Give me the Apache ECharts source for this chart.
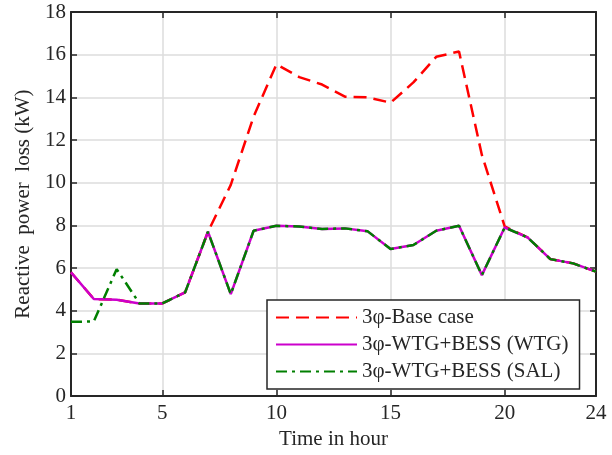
<!DOCTYPE html>
<html><head><meta charset="utf-8">
<script src="https://cdn.jsdelivr.net/npm/echarts@6/dist/echarts.min.js"></script>
<style>html,body{margin:0;padding:0;background:#fff}#c{width:612px;height:455px}</style>
</head><body><div id="c"></div>
<script>
const hours = [1,2,3,4,5,6,7,8,9,10,11,12,13,14,15,16,17,18,19,20,21,22,23,24];
const baseCase = [5.8,4.55,4.52,4.34,4.34,4.86,7.7,9.9,13.1,15.55,14.95,14.6,14.03,14.0,13.75,14.7,15.9,16.15,11.3,7.95,7.44,6.42,6.22,5.83];
const wtg = [5.8,4.55,4.52,4.34,4.34,4.86,7.7,4.78,7.75,7.98,7.95,7.83,7.86,7.72,6.89,7.08,7.75,7.98,5.67,7.9,7.44,6.42,6.22,5.83];
const sal = [3.48,3.5,5.95,4.34,4.34,4.86,7.7,4.78,7.75,7.98,7.95,7.83,7.86,7.72,6.89,7.08,7.75,7.98,5.67,7.9,7.44,6.42,6.22,5.83];
const xTicks = [1,5,10,15,20,24];
const names = ['3\u03c6-Base case','3\u03c6-WTG+BESS (WTG)','3\u03c6-WTG+BESS (SAL)'];

const font = '"Liberation Serif","Times New Roman",serif';
const axisCol = '#262626';
const pair = a => hours.map((h,i)=>[h,a[i]]);
const chart = echarts.init(document.getElementById('c'));
const xCommon = {
  type:'value', min:1, max:24,
  axisLine:{show:true,onZero:false,lineStyle:{color:axisCol,width:2}},
  axisTick:{show:true,inside:true,length:6,customValues:xTicks,lineStyle:{color:axisCol,width:1.5}},
  splitLine:{show:true,lineStyle:{color:'#dcdcdc',width:1.5}},
  axisLabel:{customValues:xTicks,color:axisCol,fontFamily:font,fontSize:21,margin:7}
};
const yCommon = {
  type:'value', min:0, max:18, interval:2,
  axisLine:{show:true,onZero:false,lineStyle:{color:axisCol,width:2}},
  axisTick:{show:true,inside:true,length:6,lineStyle:{color:axisCol,width:1.5}},
  splitLine:{show:true,lineStyle:{color:'#dcdcdc',width:1.5}},
  axisLabel:{color:axisCol,fontFamily:font,fontSize:21,margin:5}
};
chart.setOption({
  animation:false,
  backgroundColor:'#fff',
  grid:{left:71,right:16,top:12,bottom:58},
  xAxis:[
    Object.assign({},xCommon,{position:'bottom',name:'Time in hour',nameLocation:'middle',nameGap:32,
      nameTextStyle:{color:axisCol,fontFamily:font,fontSize:21}}),
    Object.assign({},xCommon,{position:'top',axisLabel:{show:false},splitLine:{show:false}})
  ],
  yAxis:[
    Object.assign({},yCommon,{position:'left',name:'Reactive  power  loss (kW)',nameLocation:'middle',nameGap:33,
      nameTextStyle:{color:axisCol,fontFamily:font,fontSize:21}}),
    Object.assign({},yCommon,{position:'right',axisLabel:{show:false},splitLine:{show:false}})
  ],
  legend:{
    orient:'vertical', left:267, top:300,
    backgroundColor:'#fff', borderColor:axisCol, borderWidth:1.5, borderRadius:0,
    padding:[7,11,7,8], itemGap:6, itemWidth:81, itemHeight:14,
    itemStyle:{opacity:0},
    textStyle:{color:axisCol,fontFamily:font,fontSize:21,padding:[0,0,0,0]},
    data:names
  },
  series:[
    {name:names[0],type:'line',data:pair(baseCase),symbol:'none',z:2,
     lineStyle:{color:'#ff0000',width:2.5,type:[13,7]},itemStyle:{color:'#ff0000'}},
    {name:names[1],type:'line',data:pair(wtg),symbol:'none',z:3,
     lineStyle:{color:'#cc00cc',width:2.5,type:'solid'},itemStyle:{color:'#cc00cc'}},
    {name:names[2],type:'line',data:pair(sal),symbol:'none',z:4,
     lineStyle:{color:'#007f00',width:2.5,type:[11,5,3,5]},itemStyle:{color:'#007f00'}}
  ]
});
</script></body></html>
